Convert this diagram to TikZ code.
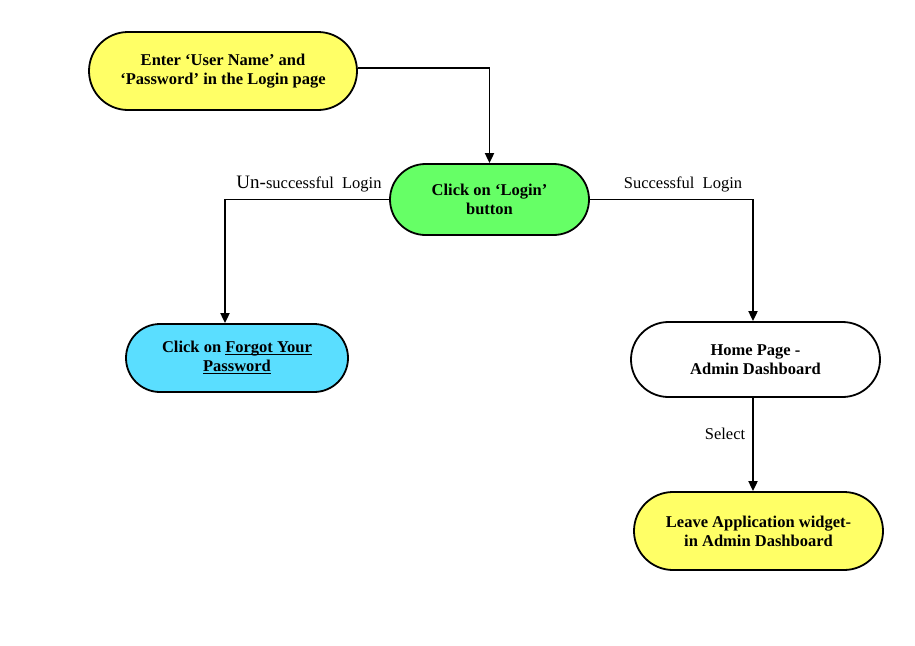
\documentclass[tikz,border=0pt]{standalone}
\usepackage{fontspec}
\setmainfont{Liberation Serif}
\usetikzlibrary{shapes.misc, arrows.meta}
\definecolor{lemon}{RGB}{255, 255, 102}
\definecolor{lime}{RGB}{102, 255, 102}
\definecolor{sky}{RGB}{90, 222, 255}
\newcommand{\undl}[1]{\setbox0\hbox{#1}\rlap{\rule[-2.5pt]{\wd0}{1.2pt}}\box0}

\begin{document}
\begin{tikzpicture}[x=1pt, y=-1pt,
  task/.style={rounded rectangle, draw, line width=1.8, align=center, inner sep=0,
    font=\fontsize{16.5}{19}\selectfont\bfseries},
  flow/.style={line width=1.9, -{Triangle[width=9pt, length=10pt]}},
  tag/.style={font=\fontsize{16.5}{18}\selectfont, inner sep=1}]

  \useasboundingbox[fill=white] (0, 0) rectangle (915, 645);

  % the boxes
  \node[task, fill=lemon, minimum width=268, minimum height=78] (enter) at (223, 71)
    {Enter `User Name' and\\`Password' in the Login page};
  \node[task, fill=lime, minimum width=199, minimum height=71] (login) at (489.5, 199.5)
    {Click on `Login'\\button};
  \node[task, fill=sky, minimum width=222, minimum height=68] (forgot) at (237, 358)
    {Click on \undl{Forgot Your}\\\undl{Password}};
  \node[task, fill=white, minimum width=249, minimum height=75] (home) at (755.5, 359.5)
    {Home Page -\\Admin Dashboard};
  \node[task, fill=lemon, minimum width=249, minimum height=78] (leave) at (758.5, 531)
    {Leave Application widget-\\in Admin Dashboard};

  % the labels
  \node[tag] (fail) at (309, 184) {{\fontsize{19}{19}\selectfont Un-}successful\ \ Login};
  \node[tag] (pass) at (683, 184) {Successful\ \ Login};
  \node[tag] (select) at (725, 434) {Select};

  % the arrows
  \draw[flow] ([yshift=3]enter.east) -| (login.north);
  \draw[flow] (login.west) -| ([xshift=-12]forgot.north);
  \draw[flow] (login.east) -| ([xshift=-2.5]home.north);
  \draw[flow] ([xshift=-2.5]home.south) -- ([xshift=-2.5]home.south |- leave.north);

\end{tikzpicture}
\end{document}
